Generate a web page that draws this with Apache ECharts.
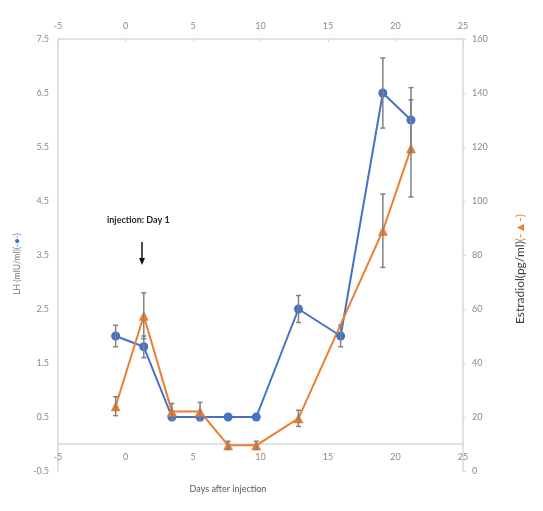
<!DOCTYPE html>
<html>
<head>
<meta charset="utf-8">
<script src="https://cdn.jsdelivr.net/npm/echarts@6/dist/echarts.min.js"></script>
<style>
  html, body { margin: 0; padding: 0; background: #fff; }
  #container { width: 543px; height: 511px; }
</style>
</head>
<body>
<div id="container"></div>
<script>
// data
var lhDays = [-1, 1, 3, 5, 7, 9, 12, 15, 18, 20];
var lhValues = [2.0, 1.8, 0.5, 0.5, 0.5, 0.5, 2.5, 2.0, 6.5, 6.0];
var lhErrors = [0.2, 0.2, 0, 0, 0, 0, 0.25, 0.2, 0.65, 0.6];

var e2Days = [-1, 1, 3, 5, 7, 9, 12, 18, 20];
var e2Values = [24, 57.5, 22, 22, 9.5, 9.5, 19.5, 89, 119.5];
var e2Errors = [3.5, 8.5, 3, 3.4, 1.5, 1.5, 3, 13.6, 18];

var dayTicks = [-5, 0, 5, 10, 15, 20, 25];

var dom = document.getElementById('container');
var myChart = echarts.init(dom, null, { renderer: 'canvas' });
var option;

var labelColor = '#8a8a8a';
var axisColor = '#d9d9d9';
var fontName = 'Lato';

function toPairs(xs, ys) {
    var out = [];
    for (var i = 0; i < xs.length; i++) out.push([xs[i], ys[i]]);
    return out;
}

function toErrorData(xs, ys, errs) {
    var out = [];
    for (var i = 0; i < xs.length; i++) {
        if (errs[i] > 0) out.push([xs[i], ys[i] - errs[i], ys[i] + errs[i]]);
    }
    return out;
}

// error bar with caps
function renderErrorBar(params, api) {
    var x = api.value(0);
    var top = api.coord([x, api.value(2)]);
    var bot = api.coord([x, api.value(1)]);
    var w = 2.5;
    var style = { stroke: '#808080', lineWidth: 1.5 };
    return {
        type: 'group',
        children: [
            { type: 'line', shape: { x1: top[0], y1: top[1], x2: bot[0], y2: bot[1] }, style: style },
            { type: 'line', shape: { x1: top[0] - w, y1: top[1], x2: top[0] + w, y2: top[1] }, style: style },
            { type: 'line', shape: { x1: bot[0] - w, y1: bot[1], x2: bot[0] + w, y2: bot[1] }, style: style }
        ]
    };
}

var tickLabel = { color: labelColor, fontSize: 9, fontFamily: fontName };

option = {
    animation: false,
    grid: { left: 58, right: 80, top: 39, bottom: 40, outerBoundsMode: 'none' },
    xAxis: [
        {
            // crosses the LH axis at 0 (half a unit above the bottom edge)
            type: 'value', position: 'bottom', offset: -27,
            min: dayTicks[0], max: dayTicks[dayTicks.length - 1], interval: 5,
            axisLine: { onZero: false, lineStyle: { color: axisColor, width: 1.5 } },
            axisTick: { show: false },
            splitLine: { show: false },
            axisLabel: Object.assign({ margin: 9, showMinLabel: true, showMaxLabel: true }, tickLabel)
        },
        {
            type: 'value', position: 'top', min: dayTicks[0], max: dayTicks[dayTicks.length - 1], interval: 5,
            axisLine: { onZero: false, lineStyle: { color: axisColor, width: 1.5 } },
            axisTick: { inside: true, length: 3, lineStyle: { color: axisColor } },
            splitLine: { show: false },
            axisLabel: Object.assign({ margin: 8, showMinLabel: true, showMaxLabel: true }, tickLabel)
        },
        // the plotted points sit on their own scale in the original
        { type: 'value', min: -5.1, max: 23.7, show: false }
    ],
    yAxis: [
        {
            type: 'value', position: 'left', min: -0.5, max: 7.5, interval: 0.5,
            axisLine: { show: true, onZero: false, lineStyle: { color: axisColor, width: 1.5 } },
            axisTick: { show: false },
            splitLine: { show: false },
            axisLabel: Object.assign({
                margin: 9,
                formatter: function (v) {
                    return Math.abs(Math.round(v * 10) % 10) === 5 ? v.toFixed(1) : '';
                }
            }, tickLabel),
            name: '{t|LH (mIU/ml)}{m|(-●-)}',
            nameLocation: 'middle',
            nameRotate: 90,
            nameGap: 36,
            nameTextStyle: {
                padding: [0, 18, 0, 0],
                rich: {
                    t: { color: '#7a7a7a', fontSize: 8.5, fontFamily: fontName },
                    m: { color: '#4472C4', fontSize: 8.5, fontFamily: fontName }
                }
            }
        },
        {
            type: 'value', position: 'right', min: 0, max: 160, interval: 20,
            axisLine: { show: true, onZero: false, lineStyle: { color: axisColor, width: 1.5 } },
            axisTick: { show: true, length: 3, lineStyle: { color: axisColor } },
            splitLine: { show: false },
            axisLabel: Object.assign({ margin: 9 }, tickLabel),
            name: '{t|Estradiol(pg/ml)}{m|(-▲-)}',
            nameLocation: 'middle',
            nameRotate: 90,
            nameGap: 51,
            nameTextStyle: {
                padding: [0, 28, 0, 0],
                rich: {
                    t: { color: '#3a3a3a', fontSize: 12, fontFamily: fontName },
                    m: { color: '#ED7D31', fontSize: 12, fontFamily: fontName }
                }
            }
        }
    ],
    graphic: [
        // x axis title sits left of centre in the original
        {
            type: 'text', x: 228, y: 489,
            style: {
                text: 'Days after injection', fill: '#595959', font: '9px ' + fontName,
                align: 'center', verticalAlign: 'middle'
            }
        },
        {
            type: 'text', left: 107, top: 216,
            style: { text: 'injection: Day 1', fill: '#262626', font: 'bold 9px ' + fontName }
        },
        {
            type: 'line',
            shape: { x1: 142, y1: 242, x2: 142, y2: 259 },
            style: { stroke: '#111', lineWidth: 1.5 }
        },
        {
            type: 'polygon',
            shape: { points: [[139, 258], [145, 258], [142, 265]] },
            style: { fill: '#111' }
        }
    ],
    series: [
        {
            name: 'LH', type: 'line', xAxisIndex: 2, yAxisIndex: 0,
            data: toPairs(lhDays, lhValues),
            symbol: 'circle', symbolSize: 9,
            itemStyle: { color: '#4472C4' },
            lineStyle: { color: '#4472C4', width: 2 },
            z: 3
        },
        {
            name: 'Estradiol', type: 'line', xAxisIndex: 2, yAxisIndex: 1,
            data: toPairs(e2Days, e2Values),
            symbol: 'triangle', symbolSize: 10,
            itemStyle: { color: '#ED7D31' },
            lineStyle: { color: '#ED7D31', width: 2 },
            z: 3
        },
        {
            type: 'custom', xAxisIndex: 2, yAxisIndex: 0,
            renderItem: renderErrorBar,
            data: toErrorData(lhDays, lhValues, lhErrors),
            z: 4, silent: true
        },
        {
            type: 'custom', xAxisIndex: 2, yAxisIndex: 1,
            renderItem: renderErrorBar,
            data: toErrorData(e2Days, e2Values, e2Errors),
            z: 4, silent: true
        }
    ]
};

if (option && typeof option === 'object') {
    myChart.setOption(option);
}

window.addEventListener('resize', myChart.resize);
</script>
</body>
</html>
